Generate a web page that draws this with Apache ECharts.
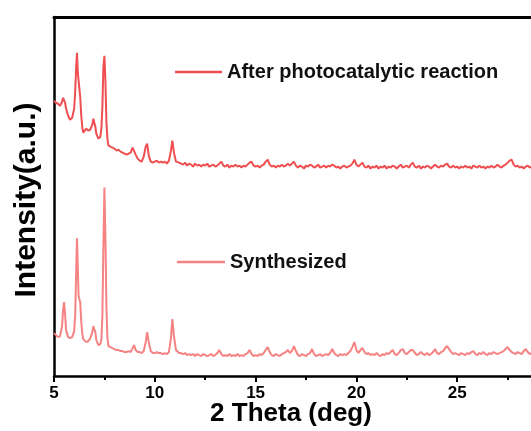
<!DOCTYPE html>
<html>
<head>
<meta charset="utf-8">
<script src="https://cdn.jsdelivr.net/npm/echarts@6/dist/echarts.min.js"></script>
<style>
html,body{margin:0;padding:0;background:#fff;}
#chart{width:531px;height:431px;}
</style>
</head>
<body>
<div id="chart"></div>
<script>
// 2 Theta positions (deg)
var twoTheta = [
5.0,5.1,5.2,5.3,5.4,5.45,5.5,5.55,5.6,5.7,5.8,5.9,6.0,6.05,6.1,6.14,6.18,6.22,6.26,6.3,
6.35,6.4,6.45,6.5,6.6,6.7,6.8,6.9,6.95,7.0,7.05,7.1,7.2,7.3,7.35,7.4,7.45,7.5,7.55,7.6,
7.65,7.7,7.8,7.9,8.0,8.1,8.2,8.3,8.4,8.5,8.6,8.7,8.8,8.9,8.97,9.05,9.15,9.25,9.35,9.45,
9.55,9.62,9.7,9.8,9.9,10.0,10.1,10.2,10.3,10.4,10.5,10.6,10.7,10.8,10.87,10.95,11.05,11.2,
11.3,11.4,11.5,11.6,11.7,11.8,11.9,12.0,12.1,12.2,12.3,12.4,12.5,12.6,12.7,12.8,12.9,
13.0,13.1,13.2,13.3,13.4,13.5,13.6,13.7,13.8,13.9,14.0,14.1,14.2,14.3,14.4,14.5,14.6,14.7,14.8,14.9,
15.0,15.1,15.2,15.3,15.4,15.5,15.6,15.7,15.8,15.9,16.0,16.1,16.2,16.3,16.4,16.5,16.6,16.7,16.8,16.9,
17.0,17.1,17.2,17.3,17.4,17.5,17.6,17.7,17.8,17.9,18.0,18.1,18.2,18.3,18.4,18.5,18.6,18.7,18.8,18.9,
19.0,19.1,19.2,19.3,19.4,19.5,19.6,19.7,19.8,19.9,20.0,20.1,20.2,20.3,20.4,20.5,20.6,20.7,20.8,20.9,
21.0,21.1,21.2,21.3,21.4,21.5,21.6,21.7,21.8,21.9,22.0,22.1,22.2,22.3,22.4,22.5,22.6,22.7,22.8,22.9,
23.0,23.1,23.2,23.3,23.4,23.5,23.6,23.7,23.8,23.9,24.0,24.1,24.2,24.3,24.4,24.5,24.6,24.7,24.8,24.9,
25.0,25.1,25.2,25.3,25.4,25.5,25.6,25.7,25.8,25.9,26.0,26.1,26.2,26.3,26.4,26.5,26.6,26.7,26.8,26.9,
27.0,27.1,27.2,27.3,27.4,27.5,27.6,27.7,27.8,27.9,28.0,28.1,28.2,28.3,28.4,28.5,28.6,28.7,28.8,28.9,
29.0
];

// After photocatalytic reaction (offset upward, arbitrary units)
var afterReaction = [
276,274,273,271,275,279,280,274,268,261,257,259,268,285,310,324,305,296,294,280,
262,250,244,246,248,246,247,252,258,259,250,243,238,240,248,270,310,321,296,255,
238,231,230,229,228,226,227,225,224,223,222,223,224,229,230,222,218,216,215,220,
230,233,221,215,214,215,216,214,215,214,215,213,216,226,236,224,215,214,
213,212,214,211,213,212,210,213,211,212,210,212,211,213,210,211,212,
210,211,213,215,211,210,212,209,211,210,212,210,211,209,211,210,212,214,215,211,
210,211,209,211,212,215,217,212,210,211,209,211,210,212,210,211,213,211,213,215,
211,209,211,210,208,211,210,212,211,209,210,212,209,210,211,209,211,210,212,211,
209,210,208,210,211,209,210,211,213,217,212,210,212,214,210,209,211,208,210,209,
211,208,210,209,211,208,210,209,211,210,208,210,212,209,210,211,209,212,214,210,
209,211,208,210,209,211,210,208,210,212,210,209,211,210,212,213,210,209,211,209,
210,208,210,209,211,209,210,208,211,210,209,211,209,210,208,210,209,211,209,210,
212,210,209,211,212,214,216,217,212,210,211,209,210,208,210,211,209,210,212,210,
209
];

// Synthesized
var synthesized = [
43,41,39,40,50,66,74,62,46,39,38,39,45,60,105,138,110,80,79,74,
55,43,37,35,34,35,38,44,50,52,44,36,31,32,37,60,130,189,140,70,
38,30,29,28,27,26,26,25,25,24,24,25,24,28,31,26,24,24,23,25,
34,44,34,25,23,23,24,23,23,22,23,22,24,38,57,40,26,23,
23,22,23,21,22,21,22,20,22,21,20,22,21,20,21,22,20,
21,23,26,22,20,21,20,22,20,21,20,22,20,21,20,22,23,26,22,20,
21,20,22,21,23,26,29,24,21,20,22,21,20,22,23,24,26,23,25,30,
25,21,20,22,21,20,22,23,27,22,20,21,22,20,21,22,21,23,27,23,
21,20,22,21,22,21,23,25,29,34,26,23,26,28,24,22,23,21,22,21,
23,21,20,22,21,23,22,24,26,22,21,23,26,27,23,22,24,26,26,23,
21,22,24,22,21,23,21,22,24,27,23,22,24,25,28,30,27,24,22,23,
22,21,23,22,21,23,22,24,25,22,21,23,22,24,22,21,23,22,24,23,
22,23,24,25,27,29,26,24,23,22,24,23,22,25,27,24,22,23,22,24,
23
];

var xTicks = [5, 10, 15, 20, 25];
var seriesNames = ['After photocatalytic reaction', 'Synthesized'];
var seriesColors = ['#EF4F50', '#F58383'];

function pairs(vals) {
  return twoTheta.map(function (x, i) { return [x, vals[i]]; });
}

var FONT = 'Liberation Sans, Arial, Helvetica, sans-serif';
var chart = echarts.init(document.getElementById('chart'), null, { renderer: 'canvas' });

chart.setOption({
  backgroundColor: '#ffffff',
  animation: false,
  grid: { left: 54, right: -27, top: 17, bottom: 55, containLabel: false, outerBoundsMode: 'none' },
  legend: [
    {
      data: [seriesNames[0]], left: 175, top: 62, icon: 'rect',
      itemWidth: 47, itemHeight: 2.5, padding: 0,
      textStyle: { fontFamily: FONT, fontWeight: 'bold', fontSize: 20, color: '#111' }
    },
    {
      data: [seriesNames[1]], left: 177, top: 252, icon: 'rect',
      itemWidth: 48, itemHeight: 2.5, padding: 0,
      textStyle: { fontFamily: FONT, fontWeight: 'bold', fontSize: 20, color: '#111' }
    }
  ],
  xAxis: [
    {
      type: 'value', min: 5, max: 30, interval: 5, position: 'bottom',
      axisLine: { show: true, onZero: false, lineStyle: { color: '#000', width: 2.5 } },
      axisTick: { show: true, inside: false, length: 6, lineStyle: { color: '#000', width: 2 } },
      minorTick: { show: true, splitNumber: 2, length: 4, lineStyle: { color: '#000', width: 2 } },
      splitLine: { show: false },
      axisLabel: {
        margin: 9, fontFamily: FONT, fontWeight: 'bold', fontSize: 17, color: '#000',
        formatter: function (v) { return xTicks.indexOf(v) >= 0 ? String(v) : ''; }
      }
    },
    {
      type: 'value', min: 5, max: 30, position: 'top',
      axisLine: { show: true, onZero: false, lineStyle: { color: '#000', width: 3 } },
      axisTick: { show: false }, axisLabel: { show: false }, splitLine: { show: false }
    }
  ],
  yAxis: {
    type: 'value', min: 0, max: 360,
    axisLine: { show: true, onZero: false, lineStyle: { color: '#000', width: 2.5 } },
    axisTick: { show: false }, axisLabel: { show: false }, splitLine: { show: false }
  },
  graphic: [
    {
      type: 'text', x: 291, y: 414,
      style: { text: '2 Theta (deg)', fontFamily: FONT, fontWeight: 'bold', fontSize: 26,
               fill: '#000', align: 'center', verticalAlign: 'middle' }
    },
    {
      type: 'text', x: 27, y: 200, rotation: Math.PI / 2,
      style: { text: 'Intensity(a.u.)', fontFamily: FONT, fontWeight: 'bold', fontSize: 30,
               fill: '#000', align: 'center', verticalAlign: 'middle' }
    }
  ],
  series: [
    {
      name: seriesNames[0], type: 'line', xAxisIndex: 0, data: pairs(afterReaction),
      showSymbol: false, symbol: 'none', smooth: false,
      lineStyle: { color: seriesColors[0], width: 2 }, itemStyle: { color: seriesColors[0] }
    },
    {
      name: seriesNames[1], type: 'line', xAxisIndex: 0, data: pairs(synthesized),
      showSymbol: false, symbol: 'none', smooth: false,
      lineStyle: { color: seriesColors[1], width: 2 }, itemStyle: { color: seriesColors[1] }
    }
  ]
});
</script>
</body>
</html>
